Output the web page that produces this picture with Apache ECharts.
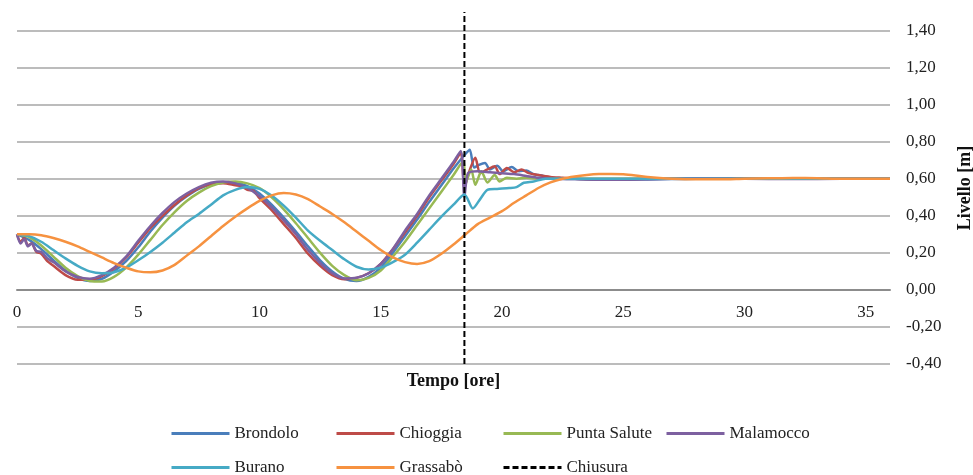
<!DOCTYPE html>
<html>
<head>
<meta charset="utf-8">
<script src="https://cdn.jsdelivr.net/npm/echarts@6/dist/echarts.min.js"></script>
<style>
  html, body { margin: 0; padding: 0; background: #fff; }
  #chart { width: 973px; height: 475px; }
</style>
</head>
<body>
<div id="chart"></div>
<script>
// Water level [m] vs time [hours] at lagoon stations; closure at ~18.45 h
const brondolo = [[0,0.30],[0.5,0.27],[1,0.22],[1.5,0.16],[2,0.105],[2.5,0.065],[3,0.048],[3.5,0.06],[4,0.10],[4.5,0.155],[5,0.23],[5.5,0.315],[6,0.39],[6.5,0.455],[7,0.505],[7.5,0.545],[8,0.57],[8.5,0.58],[9,0.578],[9.5,0.56],[10,0.52],[10.5,0.46],[11,0.39],[11.5,0.315],[12,0.235],[12.5,0.16],[13,0.10],[13.5,0.06],[14,0.048],[14.5,0.07],[15,0.12],[15.5,0.20],[16,0.29],[16.5,0.38],[17,0.475],[17.5,0.565],[18,0.655],[18.5,0.735],[18.67,0.757],[18.85,0.66],[19.05,0.675],[19.3,0.685],[19.5,0.65],[19.8,0.67],[20.05,0.64],[20.4,0.663],[20.7,0.64],[21,0.645],[21.3,0.625],[21.7,0.615],[22,0.605],[22.5,0.60],[23,0.598],[24,0.595],[25,0.594],[26,0.596],[27,0.598],[28,0.60],[30,0.601],[32,0.60],[34,0.60],[36,0.60]];

const chioggia = [[0,0.30],[0.15,0.26],[0.3,0.28],[0.45,0.24],[0.6,0.25],[0.8,0.205],[1,0.195],[1.25,0.155],[1.5,0.13],[2,0.08],[2.5,0.055],[3,0.055],[3.5,0.075],[4,0.115],[4.5,0.175],[5,0.255],[5.5,0.335],[6,0.40],[6.5,0.46],[7,0.51],[7.5,0.55],[8,0.57],[8.5,0.575],[9,0.565],[9.25,0.56],[9.5,0.54],[9.75,0.535],[10,0.495],[10.5,0.43],[11,0.355],[11.5,0.28],[12,0.195],[12.5,0.13],[13,0.08],[13.5,0.058],[14,0.065],[14.5,0.09],[15,0.14],[15.5,0.22],[16,0.31],[16.5,0.40],[17,0.50],[17.5,0.59],[18,0.68],[18.3,0.74],[18.45,0.55],[18.6,0.62],[18.9,0.713],[19.1,0.63],[19.4,0.65],[19.7,0.667],[19.9,0.625],[20.2,0.658],[20.5,0.635],[20.8,0.65],[21.1,0.63],[21.5,0.62],[22,0.61],[22.5,0.605],[23,0.60],[24,0.598],[26,0.60],[28,0.60],[36,0.60]];

const puntaSalute = [[0,0.30],[0.5,0.285],[1,0.24],[1.5,0.18],[2,0.12],[2.5,0.075],[3,0.048],[3.5,0.045],[4,0.07],[4.5,0.12],[5,0.19],[5.5,0.27],[6,0.35],[6.5,0.42],[7,0.48],[7.5,0.525],[8,0.56],[8.5,0.58],[9,0.585],[9.5,0.575],[10,0.55],[10.5,0.50],[11,0.435],[11.5,0.36],[12,0.28],[12.5,0.20],[13,0.13],[13.5,0.08],[14,0.052],[14.5,0.065],[15,0.105],[15.5,0.18],[16,0.26],[16.5,0.35],[17,0.44],[17.5,0.53],[18,0.62],[18.4,0.694],[18.5,0.577],[18.73,0.65],[18.9,0.567],[19.15,0.64],[19.4,0.58],[19.7,0.62],[19.9,0.585],[20.2,0.605],[20.6,0.60],[21,0.605],[21.5,0.60],[22,0.60],[24,0.60],[28,0.60],[36,0.60]];

const malamocco = [[0,0.30],[0.15,0.25],[0.3,0.275],[0.45,0.235],[0.6,0.25],[0.8,0.21],[1,0.205],[1.25,0.17],[1.5,0.15],[2,0.10],[2.5,0.07],[3,0.06],[3.5,0.08],[4,0.12],[4.5,0.18],[5,0.265],[5.5,0.345],[6,0.415],[6.5,0.475],[7,0.52],[7.5,0.555],[8,0.578],[8.5,0.585],[9,0.575],[9.5,0.55],[10,0.505],[10.5,0.445],[11,0.375],[11.5,0.30],[12,0.215],[12.5,0.145],[13,0.09],[13.5,0.062],[14,0.065],[14.5,0.09],[15,0.14],[15.5,0.22],[16,0.32],[16.5,0.41],[17,0.51],[17.5,0.60],[18,0.69],[18.3,0.75],[18.45,0.50],[18.6,0.63],[19,0.64],[19.5,0.635],[20,0.63],[20.5,0.625],[21,0.615],[21.5,0.605],[22,0.60],[23,0.598],[24,0.595],[25,0.595],[26,0.597],[27,0.60],[28,0.602],[30,0.60],[32,0.598],[34,0.60],[36,0.60]];

const burano = [[0,0.30],[0.5,0.29],[1,0.26],[1.5,0.215],[2,0.17],[2.5,0.13],[3,0.10],[3.5,0.09],[4,0.095],[4.5,0.12],[5,0.16],[5.5,0.205],[6,0.255],[6.5,0.31],[7,0.365],[7.5,0.41],[8,0.46],[8.5,0.51],[9,0.54],[9.5,0.555],[10,0.545],[10.5,0.51],[11,0.455],[11.5,0.39],[12,0.32],[12.5,0.265],[13,0.215],[13.5,0.165],[14,0.125],[14.5,0.11],[15,0.12],[15.5,0.15],[16,0.19],[16.5,0.255],[17,0.325],[17.5,0.395],[18,0.46],[18.45,0.515],[18.8,0.44],[19.1,0.49],[19.4,0.54],[19.8,0.545],[20.3,0.55],[20.6,0.555],[20.9,0.578],[21.3,0.585],[21.8,0.60],[22.5,0.60],[24,0.60],[28,0.60],[36,0.60]];

const grassabo = [[0,0.30],[0.5,0.30],[1,0.295],[1.5,0.28],[2,0.26],[2.5,0.235],[3,0.205],[3.5,0.175],[4,0.145],[4.5,0.12],[5,0.10],[5.5,0.095],[6,0.105],[6.5,0.135],[7,0.185],[7.5,0.235],[8,0.29],[8.5,0.345],[9,0.395],[9.5,0.44],[10,0.48],[10.5,0.51],[11,0.523],[11.5,0.515],[12,0.49],[12.5,0.45],[13,0.41],[13.5,0.365],[14,0.315],[14.5,0.265],[15,0.215],[15.5,0.175],[16,0.15],[16.5,0.14],[17,0.155],[17.5,0.195],[18,0.245],[18.5,0.30],[19,0.355],[19.5,0.39],[20,0.425],[20.5,0.47],[21,0.51],[21.5,0.55],[22,0.58],[22.5,0.60],[23,0.612],[23.5,0.62],[24,0.625],[24.5,0.626],[25,0.624],[25.5,0.618],[26,0.61],[26.5,0.604],[27,0.60],[28,0.597],[29,0.597],[30,0.60],[31,0.602],[32,0.604],[33,0.603],[34,0.60],[35,0.60],[36,0.60]];

// Closure instant, drawn across the whole level range
const chiusura = [[18.45,-0.4],[18.45,1.5]];

const stationNames = ['Brondolo','Chioggia','Punta Salute','Malamocco','Burano','Grassabò'];
const stationData = [brondolo, chioggia, puntaSalute, malamocco, burano, grassabo];
const stationColors = ['#4a7ebb','#be4b48','#98b954','#7d60a0','#46aac5','#f69240'];

const FONT = '"Liberation Serif", "Times New Roman", serif';

const series = stationNames.map((name, i) => ({
  name: name,
  type: 'line',
  data: stationData[i],
  symbol: 'none',
  smooth: 0.25,
  lineStyle: { color: stationColors[i], width: 2.5 },
  itemStyle: { color: stationColors[i] },
  emphasis: { disabled: true },
  animation: false
}));
series.push({
  name: 'Chiusura',
  type: 'line',
  data: chiusura,
  symbol: 'none',
  lineStyle: { color: '#000', width: 2, type: [6, 3] },
  itemStyle: { color: '#000' },
  emphasis: { disabled: true },
  animation: false
});

// Legend laid out as two rows of fixed columns
const legendCols = [170, 335, 502, 665];
const legendRows = [425, 459];
const legendOrder = ['Brondolo','Chioggia','Punta Salute','Malamocco','Burano','Grassabò','Chiusura'];
const legends = legendOrder.map((name, i) => ({
  data: [name],
  left: legendCols[i % 4],
  top: legendRows[Math.floor(i / 4)],
  padding: 0,
  itemWidth: 58,
  itemHeight: 2,
  itemGap: 0,
  selectedMode: false,
  itemStyle: { opacity: 0 },
  lineStyle: { width: 3 },
  textStyle: { fontFamily: FONT, fontSize: 17, color: '#222' }
}));

const chart = echarts.init(document.getElementById('chart'), null, { renderer: 'canvas' });
chart.setOption({
  animation: false,
  backgroundColor: '#fff',
  grid: { left: 17, right: 83, top: 12, bottom: 111, containLabel: false, outerBoundsMode: 'none' },
  legend: legends,
  xAxis: {
    type: 'value',
    min: 0,
    max: 36,
    interval: 5,
    offset: -74,
    name: 'Tempo [ore]',
    nameLocation: 'middle',
    nameGap: 82,
    nameTextStyle: { fontFamily: FONT, fontSize: 18, fontWeight: 'bold', color: '#111' },
    axisLine: { onZero: false, lineStyle: { color: '#8c8c8c', width: 2 } },
    axisTick: { show: false },
    splitLine: { show: false },
    axisLabel: {
      showMaxLabel: false,
      margin: 14,
      fontFamily: FONT, fontSize: 17, color: '#222'
    }
  },
  yAxis: {
    type: 'value',
    position: 'right',
    min: -0.4,
    max: 1.5,
    interval: 0.2,
    name: 'Livello [m]',
    nameLocation: 'middle',
    nameRotate: 90,
    nameGap: 66,
    nameTextStyle: { fontFamily: FONT, fontSize: 18, fontWeight: 'bold', color: '#111' },
    axisLine: { show: false },
    axisTick: { show: false },
    splitLine: { show: true, showMaxLine: false, lineStyle: { color: '#a6a6a6', width: 1.5 } },
    axisLabel: {
      showMaxLabel: false,
      margin: 16,
      fontFamily: FONT, fontSize: 17, color: '#222',
      formatter: v => v.toFixed(2).replace('.', ',')
    }
  },
  series: series
});
</script>
</body>
</html>
